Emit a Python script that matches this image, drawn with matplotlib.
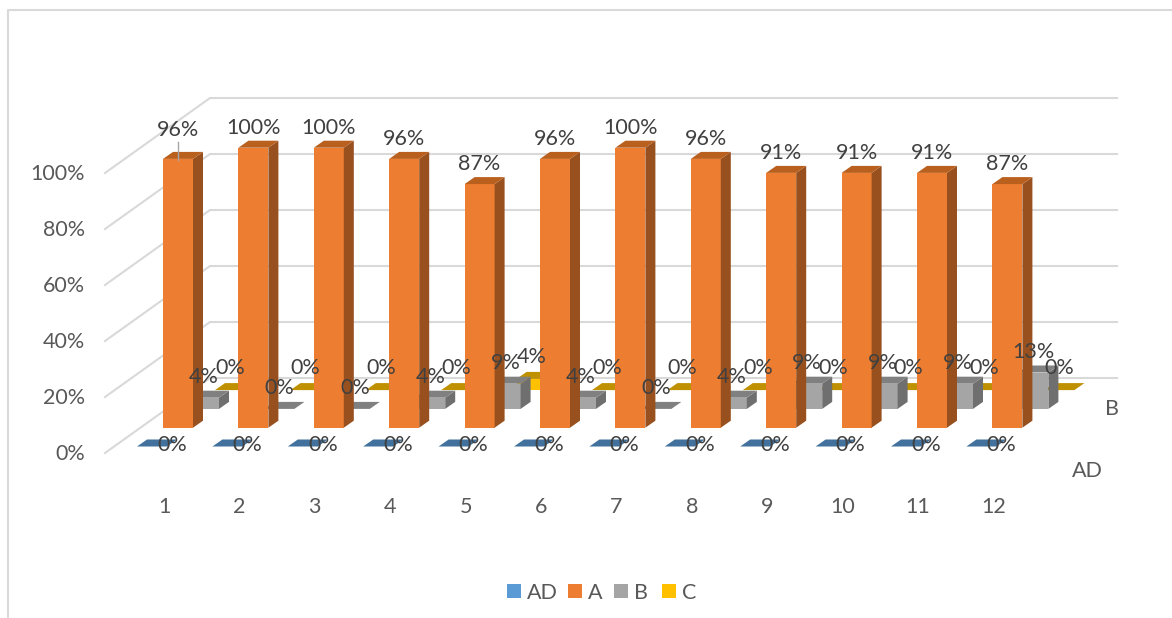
import matplotlib
matplotlib.use('Agg')
import matplotlib.pyplot as plt
from matplotlib.patches import Polygon, Rectangle

plt.rcParams['font.family'] = ['Lato', 'DejaVu Sans']

categories = ['1', '2', '3', '4', '5', '6', '7', '8', '9', '10', '11', '12']
series_names = ['AD', 'A', 'B', 'C']
ad_values = [0, 0, 0, 0, 0, 0, 0, 0, 0, 0, 0, 0]
a_values = [96, 100, 100, 96, 87, 96, 100, 96, 91, 91, 91, 87]
b_values = [4, 0, 0, 4, 9, 4, 0, 4, 9, 9, 9, 13]
c_values = [0, 0, 0, 0, 4, 0, 0, 0, 0, 0, 0, 0]
y_ticks = [0, 20, 40, 60, 80, 100]

# front, top and side colours per series
colors = {
    'AD': ('#5B9BD5', '#41719C', '#35608A'),
    'A': ('#ED7D31', '#B9601F', '#97501E'),
    'B': ('#A5A5A5', '#808080', '#6F6F6F'),
    'C': ('#FFC000', '#BF9000', '#8F6C00'),
}
# label offset from bar top, and shift from the bar centre
label_gap = {'AD': -1.5, 'A': -20, 'B': -21, 'C': -22}
label_shift = {'AD': 20, 'A': 0, 'B': 0, 'C': 0}

# pixels, the picture is a fake 3D projection
PX = 2.8
STEP_X = 75.4
DEPTH_X = 26
DEPTH_Y = -18.8
BAR_W = 30
SKEW_X = 10
SKEW_Y = -7
X0 = 137
Y0 = 446.5
TEXT = '#404040'
AXIS_TEXT = '#595959'
GRID = '#D9D9D9'
FONT = 15.5

fig = plt.figure(figsize=(11.72, 6.18), dpi=100)
ax = fig.add_axes([0, 0, 1, 1])
ax.set_xlim(0, 1172)
ax.set_ylim(618, 0)
ax.axis('off')

# chart border
ax.plot([8, 8, 1172], [618, 10, 10], color=GRID, lw=1.5)

# walls
for t in y_ticks:
    yf = 453 - t * PX
    yb = 378 - t * PX
    ax.plot([105, 210, 1117], [yf, yb, yb], color=GRID, lw=1.5, zorder=1)
    ax.text(85, yf + 1.5, f'{t}%', ha='right', va='center', fontsize=FONT, color=AXIS_TEXT)


def draw_bar(i, j, value, name):
    front, top, side = colors[name]
    x = X0 + i * STEP_X + j * DEPTH_X
    y = Y0 + j * DEPTH_Y
    h = value * PX
    z = 2 + (3 - j) * 3
    if h > 0:
        ax.add_patch(Rectangle((x, y - h), BAR_W, h, fc=front, ec='none', zorder=z + 1))
        ax.add_patch(Polygon([(x + BAR_W, y), (x + BAR_W + SKEW_X, y + SKEW_Y),
                              (x + BAR_W + SKEW_X, y - h + SKEW_Y), (x + BAR_W, y - h)],
                             fc=side, ec='none', zorder=z + 1))
    ax.add_patch(Polygon([(x, y - h), (x + BAR_W, y - h),
                          (x + BAR_W + SKEW_X, y - h + SKEW_Y), (x + SKEW_X, y - h + SKEW_Y)],
                         fc=top, ec='none', zorder=z + 1))
    ty = y - h + label_gap[name]
    # first label was dragged up in the original, with a leader line
    if name == 'A' and i == 0:
        ty -= 9
        ax.plot([x + BAR_W / 2] * 2, [y - h - 17, y - h + 1], color='#A6A6A6', lw=1, zorder=20)
    ax.text(x + BAR_W / 2 + label_shift[name], ty, f'{value}%', ha='center', va='center',
            fontsize=FONT, color=TEXT, zorder=30)


for j, (name, values) in enumerate(zip(series_names, [ad_values, a_values, b_values, c_values])):
    for i, v in enumerate(values):
        draw_bar(i, j, v, name)

# category labels
for i, c in enumerate(categories):
    ax.text(164 + i * STEP_X, 507, c, ha='center', va='center', fontsize=FONT, color=AXIS_TEXT)

# depth axis labels
ax.text(1112, 409, 'B', ha='center', va='center', fontsize=FONT, color=AXIS_TEXT)
ax.text(1087, 471, 'AD', ha='center', va='center', fontsize=FONT, color=AXIS_TEXT)

# legend
legend_x = [507, 568, 614, 662]
for name, lx in zip(series_names, legend_x):
    ax.add_patch(Rectangle((lx, 584), 14, 14, fc=colors[name][0], ec='none'))
    ax.text(lx + 20, 593, name, ha='left', va='center', fontsize=FONT, color=AXIS_TEXT)

fig.savefig('out.png', dpi=100)
